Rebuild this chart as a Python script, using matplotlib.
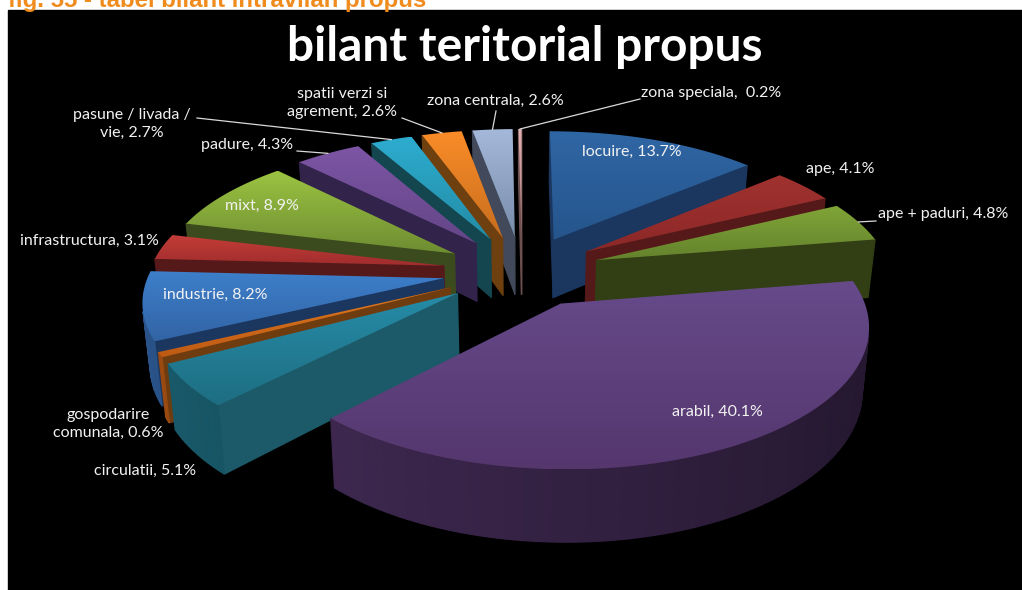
import numpy as np
import matplotlib
matplotlib.use("Agg")
import matplotlib.pyplot as plt
from matplotlib.patches import Polygon

# bilant teritorial propus (% of area, clockwise from 12 o'clock)
categories = ["locuire", "ape", "ape + paduri", "arabil", "circulatii",
              "gospodarire comunala", "industrie", "infrastructura", "mixt",
              "padure", "pasune / livada / vie", "spatii verzi si agrement",
              "zona centrala", "zona speciala"]
values = [13.7, 4.1, 4.8, 40.1, 5.1, 0.6, 8.2, 3.1, 8.9, 4.3, 2.7, 2.6, 2.6, 0.2]

colors_top = ["#2f66a4", "#a0322f", "#80a537", "#664a8a", "#268ca8", "#e17a1e",
              "#3d7fcb", "#c33d38", "#9bc341", "#7d55a5", "#2daccf", "#fa8c28",
              "#a5b8da", "#e0b0b0"]
colors_bottom = ["#26558c", "#8c2828", "#64822d", "#55376e", "#1e6e82", "#be5a14",
                 "#3264a5", "#a02d2d", "#6e8c32", "#644687", "#238ca5", "#c86e1e",
                 "#788caa", "#b08080"]
colors_wall = ["#1b375f", "#561919", "#323f14", "#322349", "#1c5a69", "#6e3c0f",
               "#1c375f", "#561919", "#3c4b1e", "#32234b", "#144650", "#6e3f0f",
               "#41495a", "#6e5050"]

label_text = ["locuire, 13.7%", "ape, 4.1%", "ape + paduri, 4.8%", "arabil, 40.1%",
              "circulatii, 5.1%", "gospodarire\ncomunala, 0.6%", "industrie, 8.2%",
              "infrastructura, 3.1%", "mixt, 8.9%", "padure, 4.3%",
              "pasune / livada /\nvie, 2.7%", "spatii verzi si\nagrement, 2.6%",
              "zona centrala, 2.6%", "zona speciala,  0.2%"]
label_pos = [(632, 152), (840, 169), (943, 214), (717, 412), (145, 471), (108, 424),
             (215, 295), (89, 241), (262, 206), (247, 145), (132, 124), (342, 103),
             (495, 101), (711, 93)]
# where a leader line starts, for the labels that have one
leader_start = {2: (876, 221), 9: (297, 151), 10: (197, 118), 11: (402, 118),
                12: (496, 111), 13: (640, 99)}

W, H = 1022, 590
CX, CY = 522, 271
A, B, K = 294, 132, 0.142   # plane scale and perspective
EXPLODE = 0.27
DEPTH = 60
SHRINK = 0.98


def project(u, v):
    w = 1 + K * v
    return CX + A * u / w, CY - B * v / w


def drop(x, y, v):
    # same point on the lower face of the slice
    return CX + (x - CX) * SHRINK, y + DEPTH / (1 + K * v)


def hex_rgb(c):
    return np.array(matplotlib.colors.to_rgb(c))


def front_facing(pts):
    p = np.array(pts)
    x, y = p[:, 0], p[:, 1]
    return np.sum(x * np.roll(y, -1) - np.roll(x, -1) * y) > 0


fig = plt.figure(figsize=(W / 100, H / 100), dpi=100, facecolor="white")
ax = fig.add_axes([0, 0, 1, 1])
ax.set_xlim(0, W)
ax.set_ylim(H, 0)
ax.axis("off")

ax.text(8, 7, "fig. 55 - tabel bilant intravilan propus", color="#f08c1e",
        fontsize=17.3, fontweight="bold", family="Liberation Sans", va="baseline")
ax.add_patch(Polygon([(8, 10), (W, 10), (W, H), (8, H)], color="black", zorder=1))

fractions = np.array(values) / np.sum(values)
edges = np.concatenate([[0], np.cumsum(fractions)]) * 2 * np.pi
mids = (edges[:-1] + edges[1:]) / 2
order = np.argsort(-np.cos(mids))

z = 2
for i in order:
    ou = EXPLODE * np.sin(mids[i])
    ov = EXPLODE * np.cos(mids[i])
    n = max(4, int((edges[i + 1] - edges[i]) * 40))
    th = np.linspace(edges[i], edges[i + 1], n)
    us = ou + np.sin(th)
    vs = ov + np.cos(th)
    arc = [project(a, b) for a, b in zip(us, vs)]
    apex = project(ou, ov)
    top_c, bot_c = hex_rgb(colors_top[i]), hex_rgb(colors_bottom[i])
    wall_c = hex_rgb(colors_wall[i])

    def low(p, v):
        return drop(p[0], p[1], v)

    # radial walls
    walls = [([arc[0], apex, low(apex, ov), low(arc[0], vs[0])], wall_c),
             ([apex, arc[-1], low(arc[-1], vs[-1]), low(apex, ov)], wall_c)]
    # curved wall, lit from the left
    for j in range(len(arc) - 1):
        uj = (us[j] + us[j + 1]) / 2
        shade = np.clip(0.62 - 0.17 * uj, 0.4, 0.85)
        walls.append(([arc[j + 1], arc[j], low(arc[j], vs[j]),
                       low(arc[j + 1], vs[j + 1])], bot_c * shade))
    for pts, col in walls:
        if not front_facing(pts):
            continue
        ax.add_patch(Polygon(pts, closed=True, facecolor=col,
                             edgecolor=col, lw=0.9, zorder=z))
    z += 1

    # top face with a vertical gradient
    poly = [apex] + arc
    px = [p[0] for p in poly]
    py = [p[1] for p in poly]
    grad = np.linspace(0, 1, 64)[:, None, None] * (bot_c - top_c)[None, None, :] + top_c
    im = ax.imshow(grad, extent=(min(px), max(px), max(py), min(py)), aspect="auto",
                   interpolation="bilinear", zorder=z)
    clip = Polygon(poly, closed=True, transform=ax.transData)
    im.set_clip_path(clip)
    z += 1

ax.set_xlim(0, W)
ax.set_ylim(H, 0)

for i, (txt, pos) in enumerate(zip(label_text, label_pos)):
    ax.text(pos[0], pos[1], txt, color="#f2f2f2", fontsize=11.5, family="Lato",
            ha="center", va="center", linespacing=1.3, zorder=100)
    if i in leader_start:
        end = project(EXPLODE * np.sin(mids[i]) + np.sin(mids[i]),
                      EXPLODE * np.cos(mids[i]) + np.cos(mids[i]))
        ax.plot([leader_start[i][0], end[0]], [leader_start[i][1], end[1]],
                color="#d9d9d9", lw=0.9, zorder=99)

ax.text(525, 47, "bilant teritorial propus", color="white", fontsize=34.5,
        fontweight="bold", family="Lato", ha="center", va="center", zorder=100)

fig.savefig("out.png", dpi=100, facecolor="white")
